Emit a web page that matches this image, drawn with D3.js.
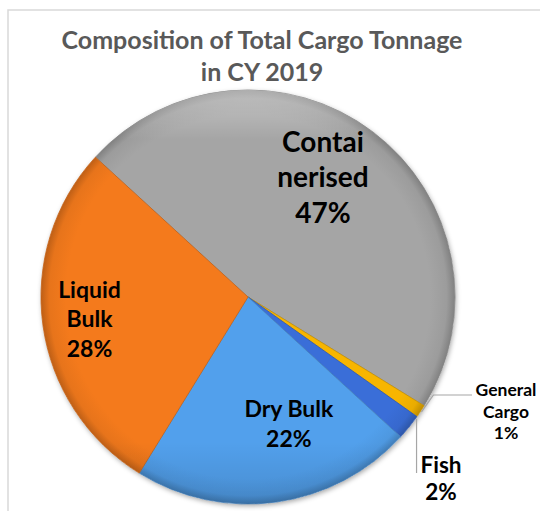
<!DOCTYPE html>
<html>
<head>
<meta charset="utf-8">
<script src="https://cdn.jsdelivr.net/npm/d3@7"></script>
<style>
  html, body { margin: 0; padding: 0; background: #fff; }
  svg { display: block; font-family: Lato, "Open Sans", sans-serif; }
</style>
</head>
<body>
<div id="chart"></div>
<script>
// DATA
var categories = ["Containerised", "General Cargo", "Fish", "Dry Bulk", "Liquid Bulk"];
var shares = [47, 1, 2, 22, 28];
var labelLines = [["Contai", "nerised"], ["General", "Cargo"], ["Fish"], ["Dry Bulk"], ["Liquid", "Bulk"]];
var colors = ["#a5a5a5", "#f7b500", "#3a6ed8", "#52a0ec", "#f47a1c"];
var titleLines = ["Composition of Total Cargo Tonnage", "in CY 2019"];

// SET UP
var width = 540, height = 511;
var cx = 248, cy = 297, radius = 207;
var startDeg = -47.5;

var svg = d3.select("#chart").append("svg")
    .attr("width", width)
    .attr("height", height);

var defs = svg.append("defs");

// soft shadow under the pie
var shadow = defs.append("filter").attr("id", "shadow")
    .attr("x", "-10%").attr("y", "-10%").attr("width", "120%").attr("height", "120%");
shadow.append("feDropShadow")
    .attr("dx", 1).attr("dy", 2).attr("stdDeviation", 2.5)
    .attr("flood-color", "#000").attr("flood-opacity", 0.35);

// cut-off heading above the chart frame (only the descender shows)
svg.append("text")
    .attr("x", 189).attr("y", -7)
    .attr("text-anchor", "middle")
    .style("font-size", "32px").style("font-weight", "bold")
    .attr("fill", "#000")
    .text("g");

// chart frame
svg.append("rect")
    .attr("x", 8).attr("y", 10)
    .attr("width", 600).attr("height", 600)
    .attr("fill", "none")
    .attr("stroke", "#d9d9d9")
    .attr("stroke-width", 1.5);

// title
svg.append("text")
    .attr("x", 262).attr("y", 49)
    .attr("text-anchor", "middle")
    .attr("fill", "#595959")
    .style("font-size", "25px").style("font-weight", "bold")
    .selectAll("tspan")
    .data(titleLines)
    .join("tspan")
    .attr("x", 262)
    .attr("dy", (d, i) => i ? 32 : 0)
    .text(d => d);

// PIE
var pie = d3.pie()
    .sort(null)
    .value(d => d)
    .startAngle(startDeg * Math.PI / 180)
    .endAngle((startDeg + 360) * Math.PI / 180);

var arcs = pie(shares);

var arc = d3.arc().innerRadius(0).outerRadius(radius);

// one radial gradient per slice for the bevel look
colors.forEach(function(c, i) {
    var g = defs.append("radialGradient")
        .attr("id", "grad" + i)
        .attr("gradientUnits", "userSpaceOnUse")
        .attr("cx", 0).attr("cy", 0).attr("r", radius);
    g.append("stop").attr("offset", "0%").attr("stop-color", c);
    g.append("stop").attr("offset", "88%").attr("stop-color", c);
    g.append("stop").attr("offset", "96%").attr("stop-color", d3.color(c).darker(0.15));
    g.append("stop").attr("offset", "100%").attr("stop-color", d3.color(c).darker(0.7));
});

// light from the top
var light = defs.append("linearGradient")
    .attr("id", "light")
    .attr("x1", 0).attr("y1", 0).attr("x2", 0).attr("y2", 1);
light.append("stop").attr("offset", "0%").attr("stop-color", "#fff").attr("stop-opacity", 0.35);
light.append("stop").attr("offset", "12%").attr("stop-color", "#fff").attr("stop-opacity", 0);
light.append("stop").attr("offset", "85%").attr("stop-color", "#000").attr("stop-opacity", 0);
light.append("stop").attr("offset", "100%").attr("stop-color", "#000").attr("stop-opacity", 0.12);

var pieG = svg.append("g")
    .attr("transform", "translate(" + cx + "," + cy + ")");

pieG.append("circle")
    .attr("r", radius)
    .attr("fill", "#fff")
    .attr("filter", "url(#shadow)");

pieG.selectAll("path.slice")
    .data(arcs)
    .join("path")
    .attr("class", "slice")
    .attr("d", arc)
    .attr("fill", (d, i) => "url(#grad" + i + ")")
    .attr("stroke", (d, i) => d3.color(colors[i]).darker(0.6))
    .attr("stroke-width", 0.8)
    .attr("stroke-linejoin", "round");

pieG.append("circle")
    .attr("r", radius)
    .attr("fill", "url(#light)")
    .attr("pointer-events", "none");

// LABELS
function midAngle(d) { return (d.startAngle + d.endAngle) / 2; }

// inside labels: nudge from the mid angle (degrees) and distance from centre
var inside = {
    0: {nudge: -5, dist: 141, size: 28, lh: 35.5},
    3: {nudge: -10, dist: 133, size: 23, lh: 30},
    4: {nudge: 0, dist: 160, size: 23, lh: 29.5}
};

Object.keys(inside).forEach(function(k) {
    var i = +k, o = inside[k], d = arcs[i];
    var p = d3.pointRadial(midAngle(d) + o.nudge * Math.PI / 180, o.dist);
    var lines = labelLines[i].concat([shares[i] + "%"]);
    var first = p[1] - (lines.length - 1) * o.lh / 2 + 0.35 * o.size;
    svg.append("text")
        .attr("text-anchor", "middle")
        .attr("fill", "#000")
        .style("font-size", o.size + "px").style("font-weight", "bold")
        .selectAll("tspan")
        .data(lines)
        .join("tspan")
        .attr("x", cx + p[0])
        .attr("y", (t, j) => cy + first + j * o.lh)
        .text(t => t);
});

// outside labels with leader lines
function outsideLabel(i, x, y, size, lh) {
    var lines = labelLines[i].concat([shares[i] + "%"]);
    svg.append("text")
        .attr("text-anchor", "middle")
        .attr("fill", "#000")
        .style("font-size", size + "px").style("font-weight", "bold")
        .selectAll("tspan")
        .data(lines)
        .join("tspan")
        .attr("x", x)
        .attr("y", (t, j) => y + j * lh)
        .text(t => t);
}

var leader = d3.line();

// General Cargo
var gp = d3.pointRadial(midAngle(arcs[1]), radius + 1);
svg.append("path")
    .attr("d", leader([[cx + gp[0], cy + gp[1]], [cx + gp[0] + 12, 395], [472, 395]]))
    .attr("fill", "none").attr("stroke", "#a6a6a6").attr("stroke-width", 1.2);
outsideLabel(1, 506, 396, 17.5, 21.5);

// Fish
var fp = d3.pointRadial(arcs[2].startAngle + 0.01, radius + 1);
svg.append("path")
    .attr("d", leader([[cx + fp[0], cy + fp[1]], [cx + fp[0], 473]]))
    .attr("fill", "none").attr("stroke", "#a6a6a6").attr("stroke-width", 1.2);
outsideLabel(2, 441, 473, 22.5, 27);
</script>
</body>
</html>
